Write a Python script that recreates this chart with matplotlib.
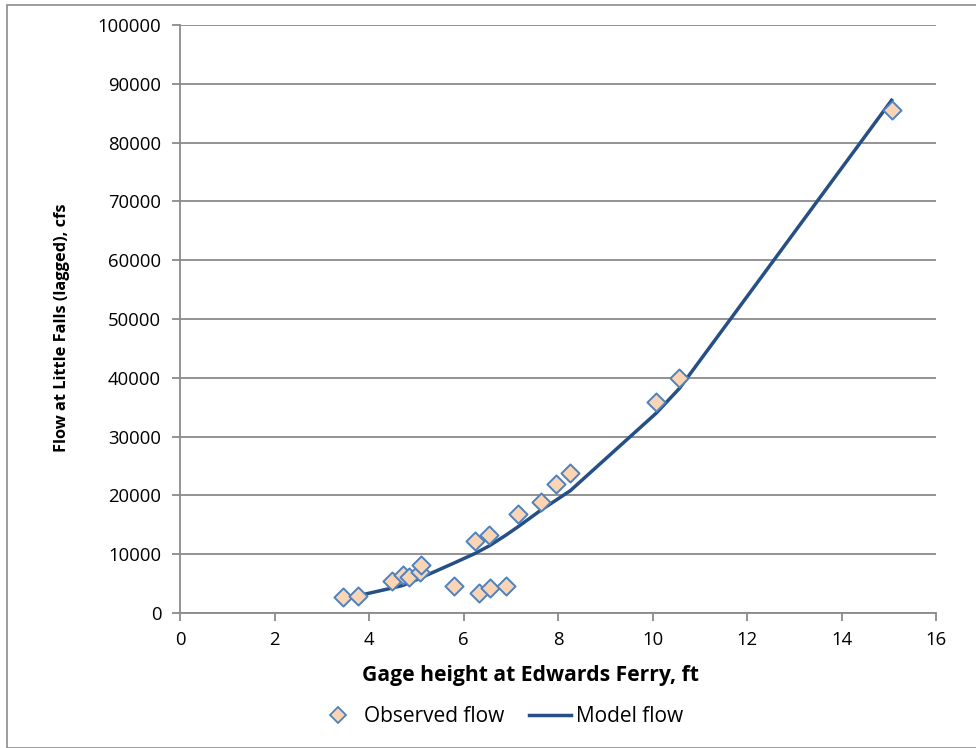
import matplotlib
matplotlib.use("Agg")
import matplotlib.pyplot as plt
from matplotlib.lines import Line2D
from matplotlib.patches import Rectangle

plt.rcParams['font.family'] = ['Open Sans', 'DejaVu Sans']

obs_x = [3.45, 3.76, 4.49, 4.72, 4.84, 5.08, 5.10, 5.80, 6.25, 6.33, 6.54,
         6.57, 6.89, 7.16, 7.64, 7.96, 8.26, 10.08, 10.57, 15.06]
obs_y = [2770, 2940, 5490, 6400, 6070, 6900, 8100, 4650, 12200, 3350, 13300,
         4200, 4550, 16800, 18900, 21900, 23800, 35800, 39900, 85600]

model_x = [3.80, 4.49, 4.72, 4.84, 5.08, 5.10, 5.80, 6.25, 6.33, 6.54, 6.57,
           6.89, 7.16, 7.64, 7.96, 8.26, 10.08, 10.57, 15.06]
model_y = [3000, 4250, 4700, 5100, 5900, 6000, 8500, 10150, 10500, 11400, 11550,
           13200, 14700, 17500, 19200, 20800, 34000, 38200, 87200]

x_ticks = [0, 2, 4, 6, 8, 10, 12, 14, 16]
y_ticks = [0, 10000, 20000, 30000, 40000, 50000, 60000, 70000, 80000, 90000, 100000]

W, H = 976, 748
fig = plt.figure(figsize=(W / 100, H / 100), dpi=100)
fig.patches.append(Rectangle((7 / W, 0.5 / H), (W + 10) / W, (H - 5.5) / H,
                             transform=fig.transFigure, fill=False,
                             edgecolor='#8c8c8c', linewidth=1.2))

ax = fig.add_axes([180 / W, 1 - 613 / H, (936 - 180) / W, (613 - 25) / H])
ax.set_xlim(0, 16)
ax.set_ylim(0, 100000)
ax.set_xticks(x_ticks)
ax.set_yticks(y_ticks)
ax.set_xticklabels([str(t) for t in x_ticks])
ax.set_yticklabels([str(t) for t in y_ticks])

ax.grid(axis='y', color='#8a8a8a', linewidth=1.3)
ax.set_axisbelow(True)
for s in ['top', 'right']:
    ax.spines[s].set_visible(False)
for s in ['left', 'bottom']:
    ax.spines[s].set_color('#8a8a8a')
    ax.spines[s].set_linewidth(1.3)
ax.tick_params(axis='both', direction='out', length=6, width=1.3, color='#8a8a8a',
               labelsize=13.3, labelcolor='black')
ax.tick_params(axis='x', pad=7)
ax.tick_params(axis='y', pad=7.5)

ax.plot(model_x, model_y, color='#254f85', linewidth=2.5, zorder=2, label='Model flow')
ax.scatter(obs_x, obs_y, marker='D', s=85, facecolor='#fbd4b4', edgecolor='#4f81bd',
           linewidth=1.4, zorder=3, label='Observed flow')

fig.text(530 / W, 1 - 676 / H, 'Gage height at Edwards Ferry, ft', fontsize=15.2,
         fontweight='bold', ha='center', va='center')
fig.text(62 / W, 1 - 328 / H, 'Flow at Little Falls (lagged), cfs', fontsize=11.8,
         fontweight='bold', ha='center', va='center', rotation=90)

handles = [Line2D([], [], marker='D', linestyle='none', markersize=8,
                  markerfacecolor='#fbd4b4', markeredgecolor='#4f81bd', markeredgewidth=1.3),
           Line2D([], [], color='#254f85', linewidth=2.5)]
fig.legend(handles, ['Observed flow', 'Model flow'], loc='center',
           bbox_to_anchor=(500 / W, 1 - 717 / H), ncol=2, frameon=False,
           fontsize=15, handlelength=2.0, columnspacing=1.2, handletextpad=0.26,
           borderpad=0, borderaxespad=0)

fig.savefig('out.png', dpi=100)
